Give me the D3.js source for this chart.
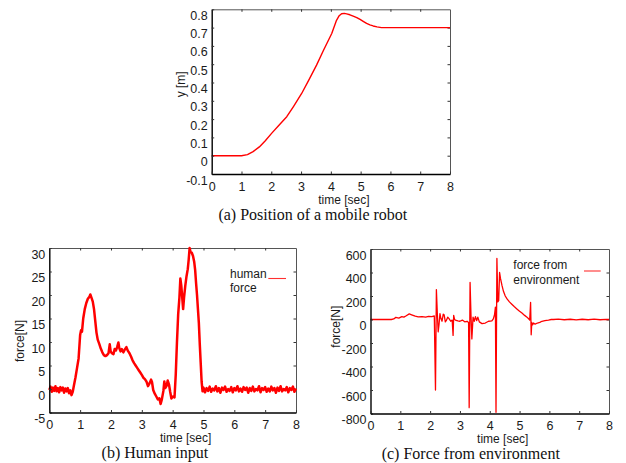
<!DOCTYPE html>
<html>
<head>
<meta charset="utf-8">
<script src="https://cdn.jsdelivr.net/npm/d3@7"></script>
<style>
  body { margin: 0; background: #fff; }
  svg text { font-family: 'Liberation Sans', Arial, sans-serif; font-size: 12px; fill: #1a1a1a; }
  svg .tick text { font-size: 12.5px; }
  svg text.caption { font-family: 'Liberation Serif', 'Times New Roman', serif; font-size: 16px; fill: #111; }
  .series { fill: none; stroke: #ff0000; stroke-linejoin: round; }
</style>
</head>
<body>
<div id="chart"></div>
<script>
const timeTicks = [0, 1, 2, 3, 4, 5, 6, 7, 8];

// (a) position of the robot
const positionTicks = [-0.1, 0, 0.1, 0.2, 0.3, 0.4, 0.5, 0.6, 0.7, 0.8];
const positionTickLabels = ['-0.1', '0', '0.1', '0.2', '0.3', '0.4', '0.5', '0.6', '0.7', '0.8'];
const positionTime = [0, 0.5, 1.0, 1.2, 1.39, 1.6, 1.8, 2.01, 2.25, 2.52, 2.75, 3.02, 3.25, 3.52,
  3.75, 4.03, 4.19, 4.28, 4.36, 4.45, 4.53, 4.64, 4.75, 4.87, 4.98, 5.1, 5.2, 5.31, 5.42, 5.55,
  5.7, 6.0, 7.0, 8.0];
const positionY = [0, 0, 0, 0.006, 0.022, 0.048, 0.082, 0.122, 0.165, 0.213, 0.27, 0.34, 0.41, 0.495,
  0.575, 0.668, 0.74, 0.765, 0.776, 0.778, 0.775, 0.77, 0.763, 0.755, 0.745, 0.733, 0.723, 0.715, 0.709, 0.704,
  0.70, 0.70, 0.70, 0.70];

// (b) human input
const forceTicksB = [-5, 0, 5, 10, 15, 20, 25, 30];
const humanTime = [
  0, 0.04, 0.08, 0.12, 0.16, 0.2, 0.24, 0.28, 0.32, 0.36,
  0.4, 0.44, 0.48, 0.52, 0.56, 0.6, 0.64, 0.68, 0.72, 0.76,
  0.8, 0.85, 0.9, 0.95, 1.0, 1.03, 1.06, 1.1, 1.15, 1.2,
  1.25, 1.3, 1.33, 1.37, 1.41, 1.45, 1.49, 1.53, 1.57, 1.62,
  1.67, 1.72, 1.77, 1.82, 1.87, 1.92, 1.96, 1.99, 2.03, 2.08,
  2.12, 2.16, 2.2, 2.24, 2.27, 2.31, 2.35, 2.4, 2.45, 2.5,
  2.55, 2.6, 2.65, 2.7, 2.75, 2.8, 2.85, 2.9, 2.95, 3.0,
  3.05, 3.1, 3.15, 3.2, 3.25, 3.3, 3.33, 3.37, 3.42, 3.47,
  3.52, 3.57, 3.61, 3.65, 3.7, 3.73, 3.76, 3.8, 3.84, 3.88,
  3.92, 3.96, 4.01, 4.06, 4.1, 4.14, 4.18, 4.22, 4.25, 4.28,
  4.31, 4.34, 4.37, 4.41, 4.45, 4.49, 4.52, 4.55, 4.58, 4.62,
  4.66, 4.7, 4.73, 4.76, 4.79, 4.82, 4.85, 4.88, 4.91, 4.94,
  4.97, 5.0, 5.05, 5.1, 5.15, 5.2, 5.25, 5.3, 5.35, 5.4,
  5.45, 5.5, 5.55, 5.6, 5.65, 5.7, 5.75, 5.8, 5.85, 5.9,
  5.95, 6.0, 6.05, 6.1, 6.15, 6.2, 6.25, 6.3, 6.35, 6.4,
  6.45, 6.5, 6.55, 6.6, 6.65, 6.7, 6.75, 6.8, 6.85, 6.9,
  6.95, 7.0, 7.05, 7.1, 7.15, 7.2, 7.25, 7.3, 7.35, 7.4,
  7.45, 7.5, 7.55, 7.6, 7.65, 7.7, 7.75, 7.8, 7.85, 7.9,
  7.95, 8.0];
const humanForce = [
  -0.2, 0.5, -0.6, 0.3, -0.4, 0.6, -0.5, 0.2, -0.7, 0.4,
  -0.3, 0.3, -0.8, 0.1, -0.5, 0.2, -0.9, -0.3, -1.3, -0.6,
  0.8, 2.5, 4.5, 6.5, 11.5, 12.5, 12.2, 15, 17, 18.3,
  19.2, 19.6, 20.1, 19.4, 18.6, 17, 14.5, 12, 10.5, 9.6,
  8.6, 7.8, 7.2, 7.0, 7.2, 7.6, 9.5, 8.0, 7.6, 7.4,
  8.5, 8.2, 8.9, 9.9, 8.7, 8.0, 8.5, 7.8, 8.4, 8.9,
  8.1, 7.6, 6.9, 6.1, 5.5, 5.0, 4.5, 4.0, 3.5, 3.0,
  2.4, 2.1, 1.6, 0.6, 1.2, 2.0, 1.5, -0.2, -1.0, -1.6,
  -2.2, -2.0, -3.2, -2.2, -0.4, 1.6, 0.2, 0.6, 1.8, 1.0,
  -0.6, -2.0, -1.6, -1.8, 3.0, 10, 16, 19.5, 23.5, 22,
  19.5, 17, 19.5, 22, 24, 25.5, 27.5, 30.0, 29.2, 29.0,
  28.3, 27, 25.3, 22.5, 20, 17, 14, 9.5, 5.5, 1.5,
  -0.5, 0.3, -0.7, 0.2, -0.4, 0.5, -0.6, 0.1, -0.3, 0.6,
  -0.5, 0.2, -0.8, 0.3, -0.2, 0.5, -0.6, 0.0, -0.4, 0.4,
  -0.7, 0.2, -0.3, 0.6, -0.5, 0.1, -0.6, 0.4, -0.2, 0.3,
  -0.8, 0.2, -0.4, 0.5, -0.5, 0.0, -0.3, 0.6, -0.7, 0.2,
  -0.2, 0.4, -0.6, 0.1, -0.5, 0.5, -0.3, 0.2, -0.8, 0.3,
  -0.4, 0.6, -0.5, 0.0, -0.3, 0.4, -0.7, 0.2, -0.2, 0.5,
  -0.6, 0.1];

// (c) force from environment
const forceTicksC = [-800, -600, -400, -200, 0, 200, 400, 600];
const envTime = [
  0, 0.7, 0.78, 0.85, 0.95, 1.05, 1.12, 1.2, 1.3, 1.38,
  1.5, 1.6, 1.73, 1.85, 1.95, 2.06, 2.14, 2.18, 2.21, 2.24,
  2.27, 2.3, 2.33, 2.36, 2.4, 2.44, 2.47, 2.51, 2.54, 2.59,
  2.64, 2.69, 2.74, 2.77, 2.79, 2.82, 2.87, 2.93, 3.0, 3.08,
  3.16, 3.24, 3.29, 3.31, 3.34, 3.37, 3.4, 3.44, 3.48, 3.52,
  3.56, 3.6, 3.65, 3.74, 3.85, 3.96, 4.07, 4.12, 4.16, 4.19,
  4.21, 4.24, 4.27, 4.3, 4.33, 4.36, 4.41, 4.46, 4.52, 4.58,
  4.66, 4.74, 4.82, 4.91, 5.0, 5.08, 5.17, 5.25, 5.31, 5.34,
  5.37, 5.39, 5.41, 5.44, 5.47, 5.52, 5.6, 5.68, 5.75, 5.85,
  5.97, 6.06, 6.14, 6.3, 6.5, 6.7, 6.9, 7.1, 7.3, 7.5,
  7.7, 7.9, 8.0];
const envForce = [
  0, 0, 5, 18, 12, 25, 20, 32, 48, 40,
  28, 22, 25, 20, 26, 24, 30, -600, 255, 60,
  -105, -40, 50, 10, -15, 45, 40, -20, -10, 20,
  5, -15, -5, -135, 35, 0, -8, -12, -15, -5,
  -20, -15, -25, -750, 315, 40, -165, 20, -15, 25,
  -10, 20, -20, -35, -30, -15, -12, 5, 40, 105,
  -790, 520, 150, 160, 400, 350, 290, 240, 200, 175,
  150, 130, 110, 90, 70, 55, 35, 20, 5, -5,
  145, -130, -25, -45, -30, -40, -30, -25, -15, -10,
  -5, 0, 0, 3, -2, 2, -3, 2, -2, 3,
  -2, 1, 0];

const svg = d3.select('#chart')
  .append('svg')
  .attr('width', 626)
  .attr('height', 463);

function drawPanel(cfg) {
  const g = svg.append('g')
    .attr('transform', `translate(${cfg.left}, ${cfg.top})`);

  const x = d3.scaleLinear().domain([0, 8]).range([0, cfg.width]);
  const y = d3.scaleLinear().domain(d3.extent(cfg.yTicks)).range([cfg.height, 0]);

  // thin grey top / right frame with inner ticks
  g.append('g')
    .call(d3.axisTop(x).tickValues(timeTicks.slice(1, -1)).tickSize(-2.5).tickSizeOuter(0).tickFormat(''))
    .call((a) => a.select('.domain').attr('stroke', '#555').attr('stroke-width', 1));
  g.append('g')
    .attr('transform', `translate(${cfg.width}, 0)`)
    .call(d3.axisRight(y).tickValues(cfg.yTicks.slice(1, -1)).tickSize(-2.5).tickSizeOuter(0).tickFormat(''))
    .call((a) => a.select('.domain').attr('stroke', '#555').attr('stroke-width', 1));

  // series line
  g.append('path')
    .datum(cfg.t.map((t, i) => [t, cfg.v[i]]))
    .attr('class', 'series')
    .attr('stroke-width', cfg.lineWidth)
    .attr('d', d3.line().x((d) => x(d[0])).y((d) => y(d[1])));

  // left / bottom axes
  g.append('g')
    .call(d3.axisLeft(y).tickValues(cfg.yTicks).tickSize(-2.5).tickSizeOuter(0).tickPadding(4)
      .tickFormat((d, i) => cfg.yLabels[i]))
    .call((a) => a.select('.domain').attr('stroke', '#000').attr('stroke-width', 1.4))
    .call((a) => a.selectAll('text').attr('dy', 10));

  g.append('g')
    .attr('transform', `translate(0, ${cfg.height})`)
    .call(d3.axisBottom(x).tickValues(timeTicks).tickSize(-2.5).tickSizeOuter(0))
    .call((a) => a.select('.domain').attr('stroke', '#000').attr('stroke-width', 1.4))
    .call((a) => a.selectAll('text').attr('y', 16.8).attr('dy', null));
  g.selectAll('.tick line').attr('stroke', '#333');

  g.append('text')
    .attr('x', cfg.width / 2 + 13)
    .attr('y', cfg.height + 29.8)
    .attr('text-anchor', 'middle')
    .text('time [sec]');

  g.append('text')
    .attr('transform', `translate(${cfg.yTitle[0]}, ${cfg.yTitle[1]}) rotate(-90)`)
    .attr('text-anchor', 'middle')
    .attr('dy', '0.35em')
    .text(cfg.yName);

  g.append('text')
    .attr('class', 'caption')
    .attr('x', cfg.width / 2 + cfg.captionShift)
    .attr('y', cfg.height + 45.8)
    .attr('text-anchor', 'middle')
    .text(cfg.caption);

  if (cfg.legend) {
    const lg = cfg.legend;
    lg.lines.forEach((s, i) => {
      g.append('text')
        .attr('x', lg.x)
        .attr('y', lg.y + i * lg.step)
        .attr('dy', '0.35em')
        .text(s);
    });
    g.append('line')
      .attr('x1', lg.x1).attr('x2', lg.x2)
      .attr('y1', lg.ly).attr('y2', lg.ly)
      .attr('stroke', '#ff3030')
      .attr('stroke-width', 1.1);
  }
}

drawPanel({
  left: 211.7, top: 9.3, width: 238.3, height: 164.7,
  yTicks: positionTicks, yLabels: positionTickLabels,
  t: positionTime, v: positionY, lineWidth: 1.4,
  yName: 'y [m]', yTitle: [-31, 75],
  caption: '(a) Position of a mobile robot', captionShift: -18
});

drawPanel({
  left: 49.3, top: 248, width: 246.7, height: 164.5,
  yTicks: forceTicksB, yLabels: forceTicksB.map(String),
  t: humanTime, v: humanForce, lineWidth: 2.5,
  yName: 'force[N]', yTitle: [-29.3, 93],
  caption: '(b) Human input', captionShift: -17.7,
  legend: { lines: ['human', 'force'], x: 180.7, y: 25.3, step: 14.4, x1: 219, x2: 236.7, ly: 30.5 }
});

drawPanel({
  left: 370.5, top: 249, width: 238.5, height: 164.5,
  yTicks: forceTicksC, yLabels: forceTicksC.map(String),
  t: envTime, v: envForce, lineWidth: 1.3,
  yName: 'force[N]', yTitle: [-35, 77.7],
  caption: '(c) Force from environment', captionShift: -19,
  legend: { lines: ['force from', 'environment'], x: 142.8, y: 15.3, step: 15, x1: 213.5, x2: 230.2, ly: 22 }
});
</script>
</body>
</html>
